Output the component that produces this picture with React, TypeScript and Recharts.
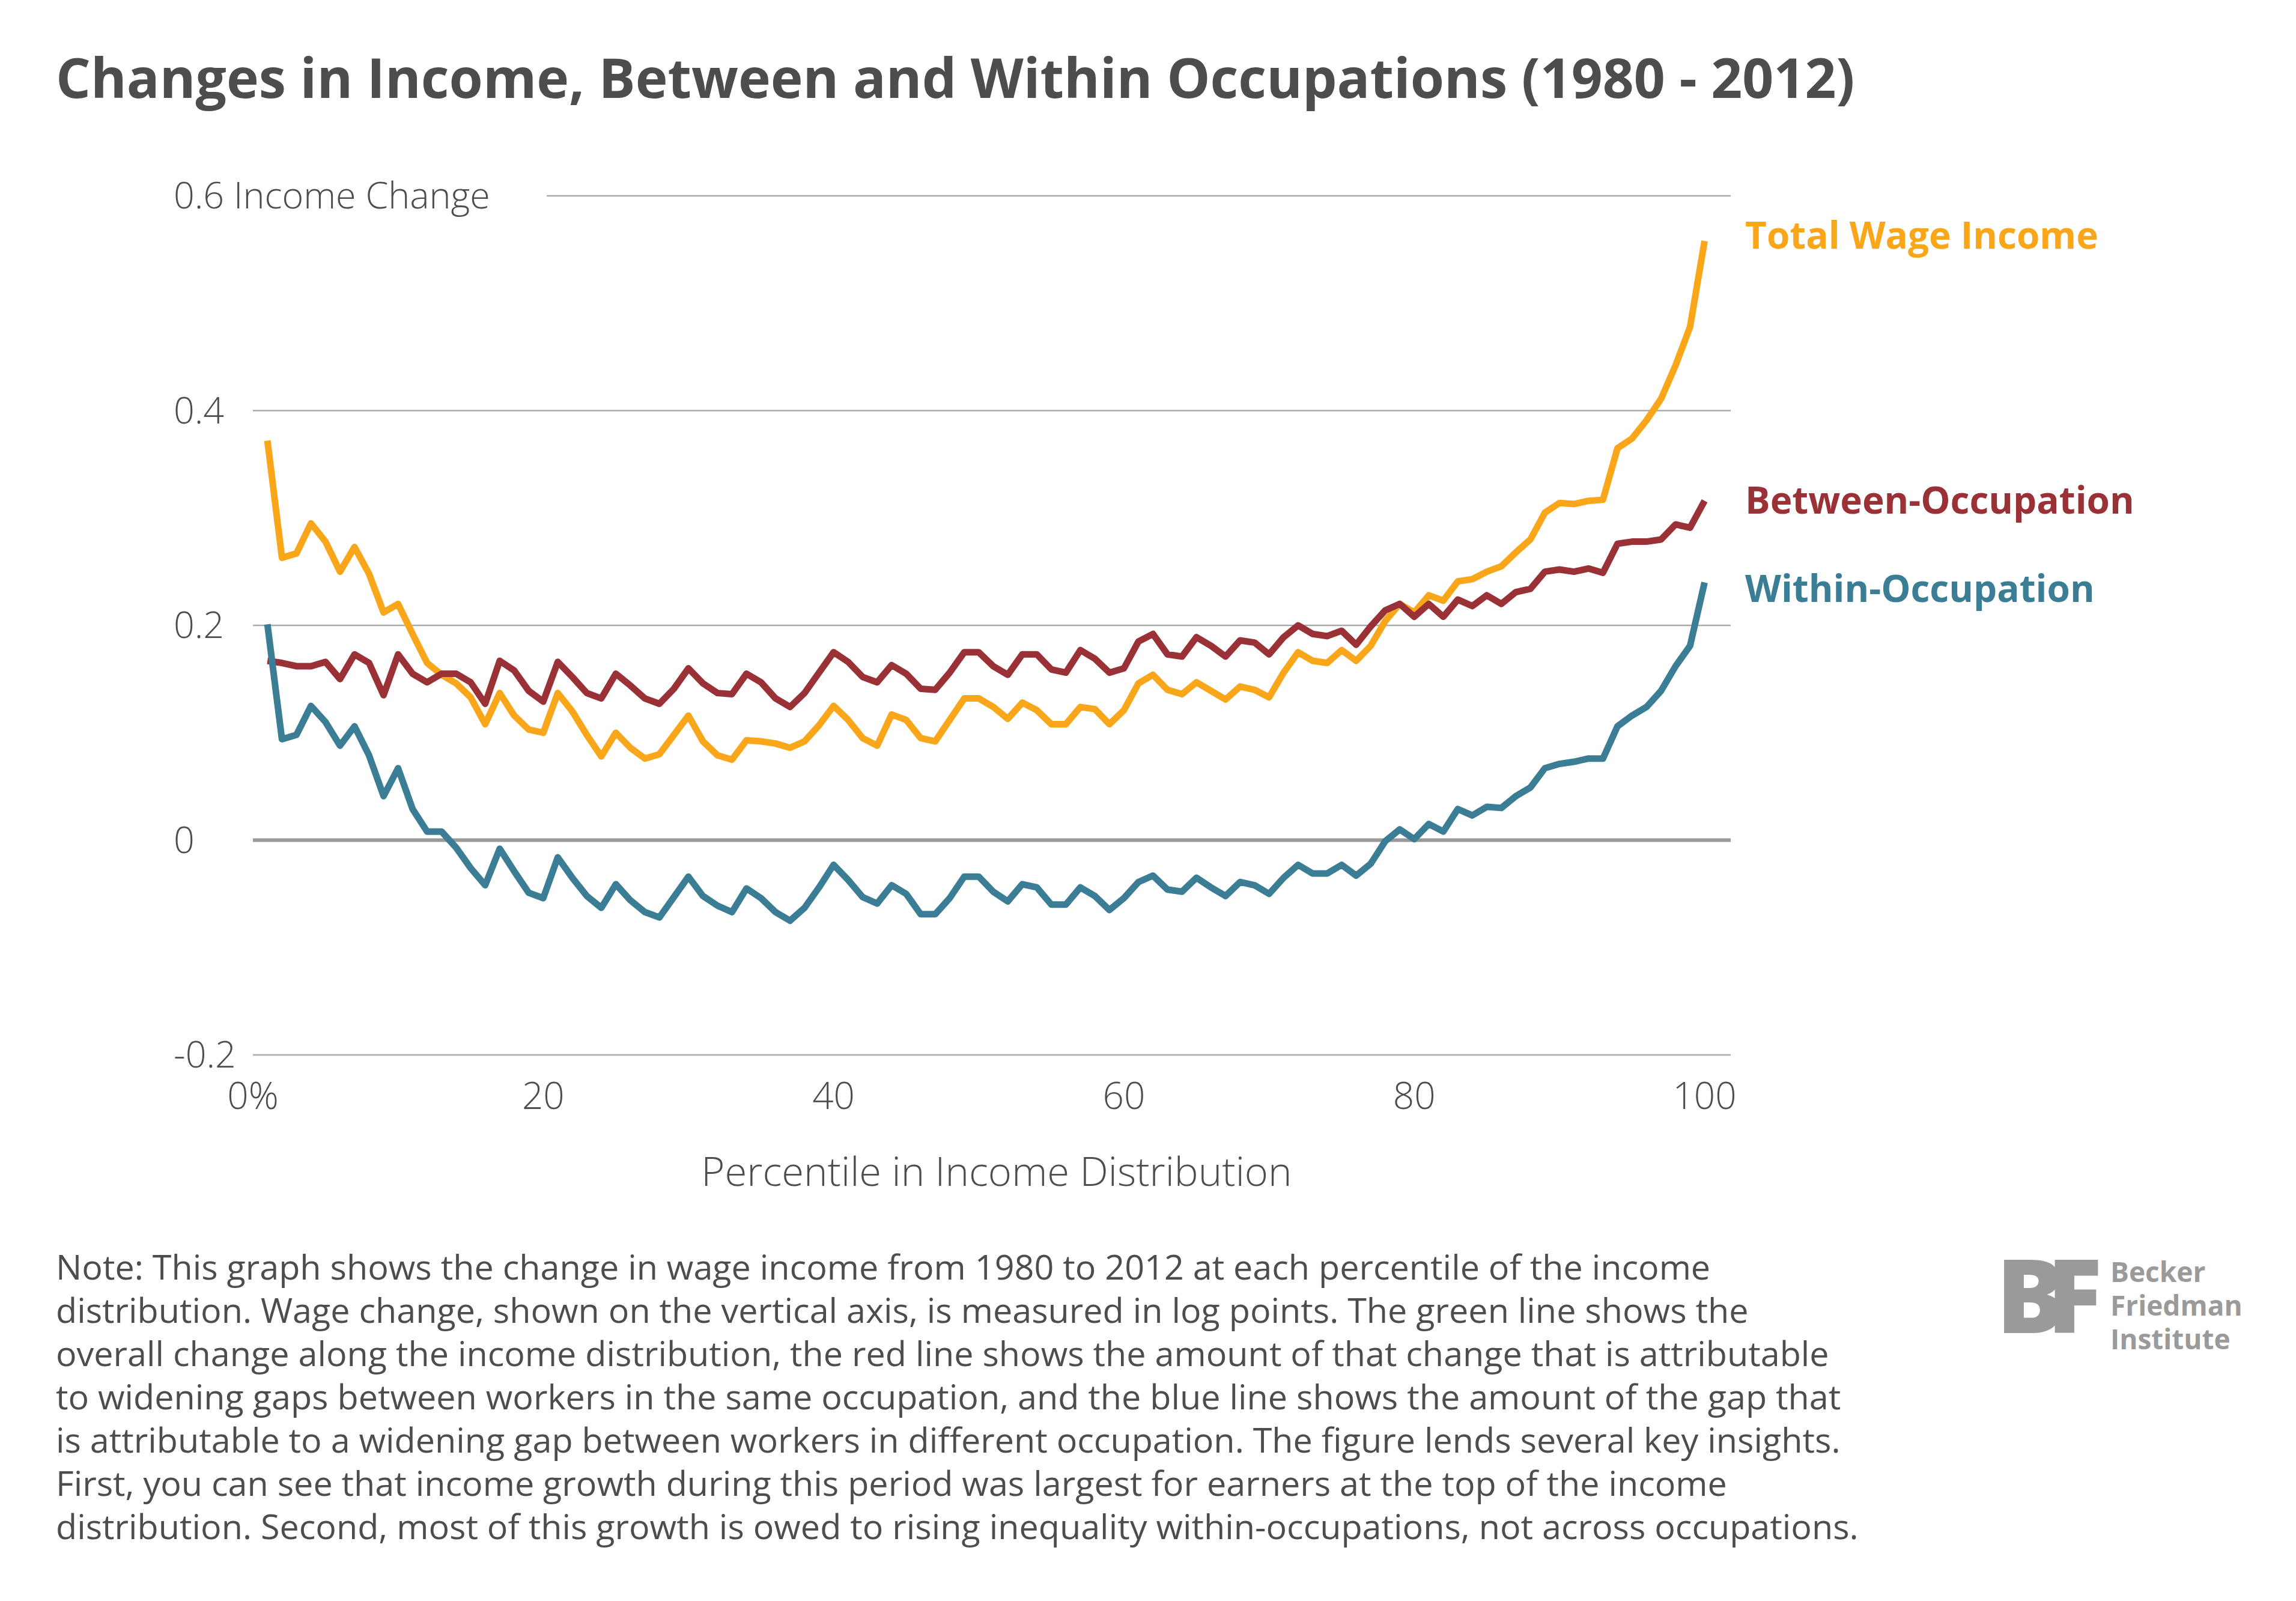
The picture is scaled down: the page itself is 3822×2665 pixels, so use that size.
import { CartesianGrid, Line, LineChart, ReferenceLine, XAxis, YAxis } from "recharts";

const percentiles = Array.from({ length: 100 }, (_, i) => i + 1);

const totalWage = [
  0.372, 0.263, 0.267, 0.295, 0.278, 0.25, 0.273, 0.248, 0.212, 0.22,
  0.192, 0.165, 0.154, 0.146, 0.133, 0.108, 0.137, 0.116, 0.103, 0.1,
  0.137, 0.12, 0.098, 0.078, 0.1, 0.086, 0.076, 0.08, 0.098, 0.116,
  0.092, 0.079, 0.075, 0.093, 0.092, 0.09, 0.086, 0.092, 0.107, 0.125,
  0.112, 0.095, 0.088, 0.117, 0.112, 0.095, 0.092, 0.112, 0.132, 0.132,
  0.124, 0.113, 0.128, 0.121, 0.108, 0.108, 0.124, 0.122, 0.108, 0.121,
  0.146, 0.154, 0.14, 0.136, 0.147, 0.139, 0.131, 0.143, 0.14, 0.133,
  0.156, 0.175, 0.167, 0.165, 0.177, 0.167, 0.181, 0.204, 0.22, 0.212,
  0.228, 0.223, 0.241, 0.243, 0.25, 0.255, 0.268, 0.28, 0.305, 0.314,
  0.313, 0.316, 0.317, 0.365, 0.374, 0.391, 0.411, 0.442, 0.478, 0.558,
];

const betweenOcc = [
  0.167, 0.165, 0.162, 0.162, 0.166, 0.15, 0.173, 0.165, 0.135, 0.173,
  0.155, 0.147, 0.155, 0.155, 0.147, 0.127, 0.167, 0.158, 0.139, 0.129,
  0.166, 0.152, 0.137, 0.132, 0.155, 0.144, 0.132, 0.127, 0.141, 0.16,
  0.146, 0.137, 0.136, 0.155, 0.147, 0.132, 0.124, 0.137, 0.156, 0.175,
  0.166, 0.152, 0.147, 0.163, 0.155, 0.141, 0.14, 0.156, 0.175, 0.175,
  0.162, 0.154, 0.173, 0.173, 0.159, 0.156, 0.177, 0.169, 0.156, 0.16,
  0.185, 0.192, 0.173, 0.171, 0.189, 0.181, 0.171, 0.186, 0.184, 0.173,
  0.189, 0.2, 0.192, 0.19, 0.195, 0.182, 0.199, 0.214, 0.22, 0.208,
  0.22, 0.208, 0.224, 0.218, 0.228, 0.22, 0.231, 0.234, 0.25, 0.252,
  0.25, 0.253, 0.249, 0.276, 0.278, 0.278, 0.28, 0.294, 0.291, 0.316,
];

const withinOcc = [
  0.201, 0.094, 0.098, 0.125, 0.11, 0.088, 0.106, 0.079, 0.041, 0.067,
  0.029, 0.008, 0.008, -0.007, -0.026, -0.042, -0.008, -0.029, -0.049, -0.054,
  -0.016, -0.035, -0.052, -0.063, -0.041, -0.056, -0.067, -0.072, -0.053, -0.034,
  -0.052, -0.061, -0.067, -0.045, -0.054, -0.067, -0.075, -0.063, -0.044, -0.023,
  -0.037, -0.053, -0.059, -0.042, -0.05, -0.069, -0.069, -0.054, -0.034, -0.034,
  -0.048, -0.057, -0.041, -0.044, -0.06, -0.06, -0.044, -0.052, -0.065, -0.054,
  -0.039, -0.033, -0.046, -0.048, -0.035, -0.044, -0.052, -0.039, -0.042, -0.05,
  -0.035, -0.023, -0.031, -0.031, -0.023, -0.033, -0.022, -0.001, 0.01, 0.001,
  0.015, 0.008, 0.029, 0.023, 0.031, 0.03, 0.041, 0.049, 0.067, 0.071,
  0.073, 0.076, 0.076, 0.106, 0.116, 0.124, 0.139, 0.162, 0.181, 0.24,
];

const xTicks = [0, 20, 40, 60, 80, 100];
const yTicks = [-0.2, 0, 0.2, 0.4, 0.6];
const yTickLabels: Record<string, string> = {
  "-0.2": "-0.2",
  "0": "0",
  "0.2": "0.2",
  "0.4": "0.4",
  "0.6": "0.6 Income Change",
};

const data = percentiles.map((p, i) => ({
  p,
  total: totalWage[i],
  between: betweenOcc[i],
  within: withinOcc[i],
}));

const FONT = "'Open Sans', Lato, sans-serif";
const TEXT = "#4d4d4d";

const noteLines = [
  "Note: This graph shows the change in wage income from 1980 to 2012 at each percentile of the income",
  "distribution. Wage change, shown on the vertical axis, is measured in log points. The green line shows the",
  "overall change along the income distribution, the red line shows the amount of that change that is attributable",
  "to widening gaps between workers in the same occupation, and the blue line shows the amount of the gap that",
  "is attributable to a widening gap between workers in different occupation. The figure lends several key insights.",
  "First, you can see that income growth during this period was largest for earners at the top of the income",
  "distribution. Second, most of this growth is owed to rising inequality within-occupations, not across occupations.",
];

function YTick(props: any) {
  const { y, payload } = props;
  const label = yTickLabels[String(payload.value)] ?? String(payload.value);
  const isTop = payload.value === 0.6;
  return (
    <g>
      {isTop && <rect x={412} y={y - 10} width={490} height={20} fill="#fff" />}
      <text x={281} y={y} dy={21} fill={TEXT} fontSize={61} fontWeight={300} fontFamily={FONT}>
        {label}
      </text>
    </g>
  );
}

export default function App() {
  return (
    <div style={{ position: "relative", width: 3806, height: 2640, background: "#fff", fontFamily: FONT, color: TEXT }}>
      <div style={{ position: "absolute", left: 85, top: 58, fontSize: 91, fontWeight: 700, whiteSpace: "nowrap" }}>
        Changes in Income, Between and Within Occupations (1980 - 2012)
      </div>
      <div style={{ position: "absolute", left: 0, top: 0 }}>
        <LineChart width={3000} height={2000} data={data} margin={{ top: 318, right: 127, bottom: 222, left: 283 }}>
          <CartesianGrid vertical={false} stroke="#aaaaaa" strokeWidth={2.5} />
          <XAxis
            dataKey="p"
            type="number"
            domain={[0, 101.8]}
            ticks={xTicks}
            axisLine={false}
            tickLine={false}
            tickMargin={40}
            tick={{ fill: TEXT, fontSize: 62, fontWeight: 300, fontFamily: FONT }}
            tickFormatter={(v) => (v === 0 ? "0%" : String(v))}
          />
          <YAxis
            type="number"
            domain={[-0.2, 0.6]}
            ticks={yTicks}
            width={130}
            axisLine={false}
            tickLine={false}
            tick={<YTick />}
          />
          <ReferenceLine y={0} stroke="#999999" strokeWidth={6} />
          <Line dataKey="total" stroke="#F9A61A" strokeWidth={11} dot={false} isAnimationActive={false} strokeLinejoin="round" />
          <Line dataKey="between" stroke="#993136" strokeWidth={11} dot={false} isAnimationActive={false} strokeLinejoin="round" />
          <Line dataKey="within" stroke="#3A7D94" strokeWidth={11} dot={false} isAnimationActive={false} strokeLinejoin="round" />
        </LineChart>
      </div>
      <div style={{ position: "absolute", left: 1659 - 8, top: 1950 - 8 - 48, transform: "translateX(-50%)", fontSize: 67, fontWeight: 300, whiteSpace: "nowrap" }}>
        Percentile in Income Distribution
      </div>
      <div style={{ position: "absolute", left: 2897, top: 340, fontSize: 62, fontWeight: 700, color: "#F9A61A", whiteSpace: "nowrap" }}>Total Wage Income</div>
      <div style={{ position: "absolute", left: 2897, top: 781, fontSize: 62, fontWeight: 700, color: "#993136", whiteSpace: "nowrap" }}>Between-Occupation</div>
      <div style={{ position: "absolute", left: 2897, top: 928, fontSize: 62, fontWeight: 700, color: "#3A7D94", whiteSpace: "nowrap" }}>Within-Occupation</div>
      <div style={{ position: "absolute", left: 85, top: 2064, fontSize: 57.5, lineHeight: "72px" }}>
        {noteLines.map((l, i) => (
          <div key={i} style={{ whiteSpace: "nowrap" }}>{l}</div>
        ))}
      </div>
      <div style={{ position: "absolute", left: 3315, top: 2060, fontSize: 170, fontWeight: 800, color: "#9a9a9a", letterSpacing: -30, lineHeight: "170px" }}>BF</div>
      <div style={{ position: "absolute", left: 3505, top: 2080, fontSize: 46, fontWeight: 700, color: "#9a9a9a", lineHeight: "56px" }}>
        <div>Becker</div>
        <div>Friedman</div>
        <div>Institute</div>
      </div>
    </div>
  );
}
